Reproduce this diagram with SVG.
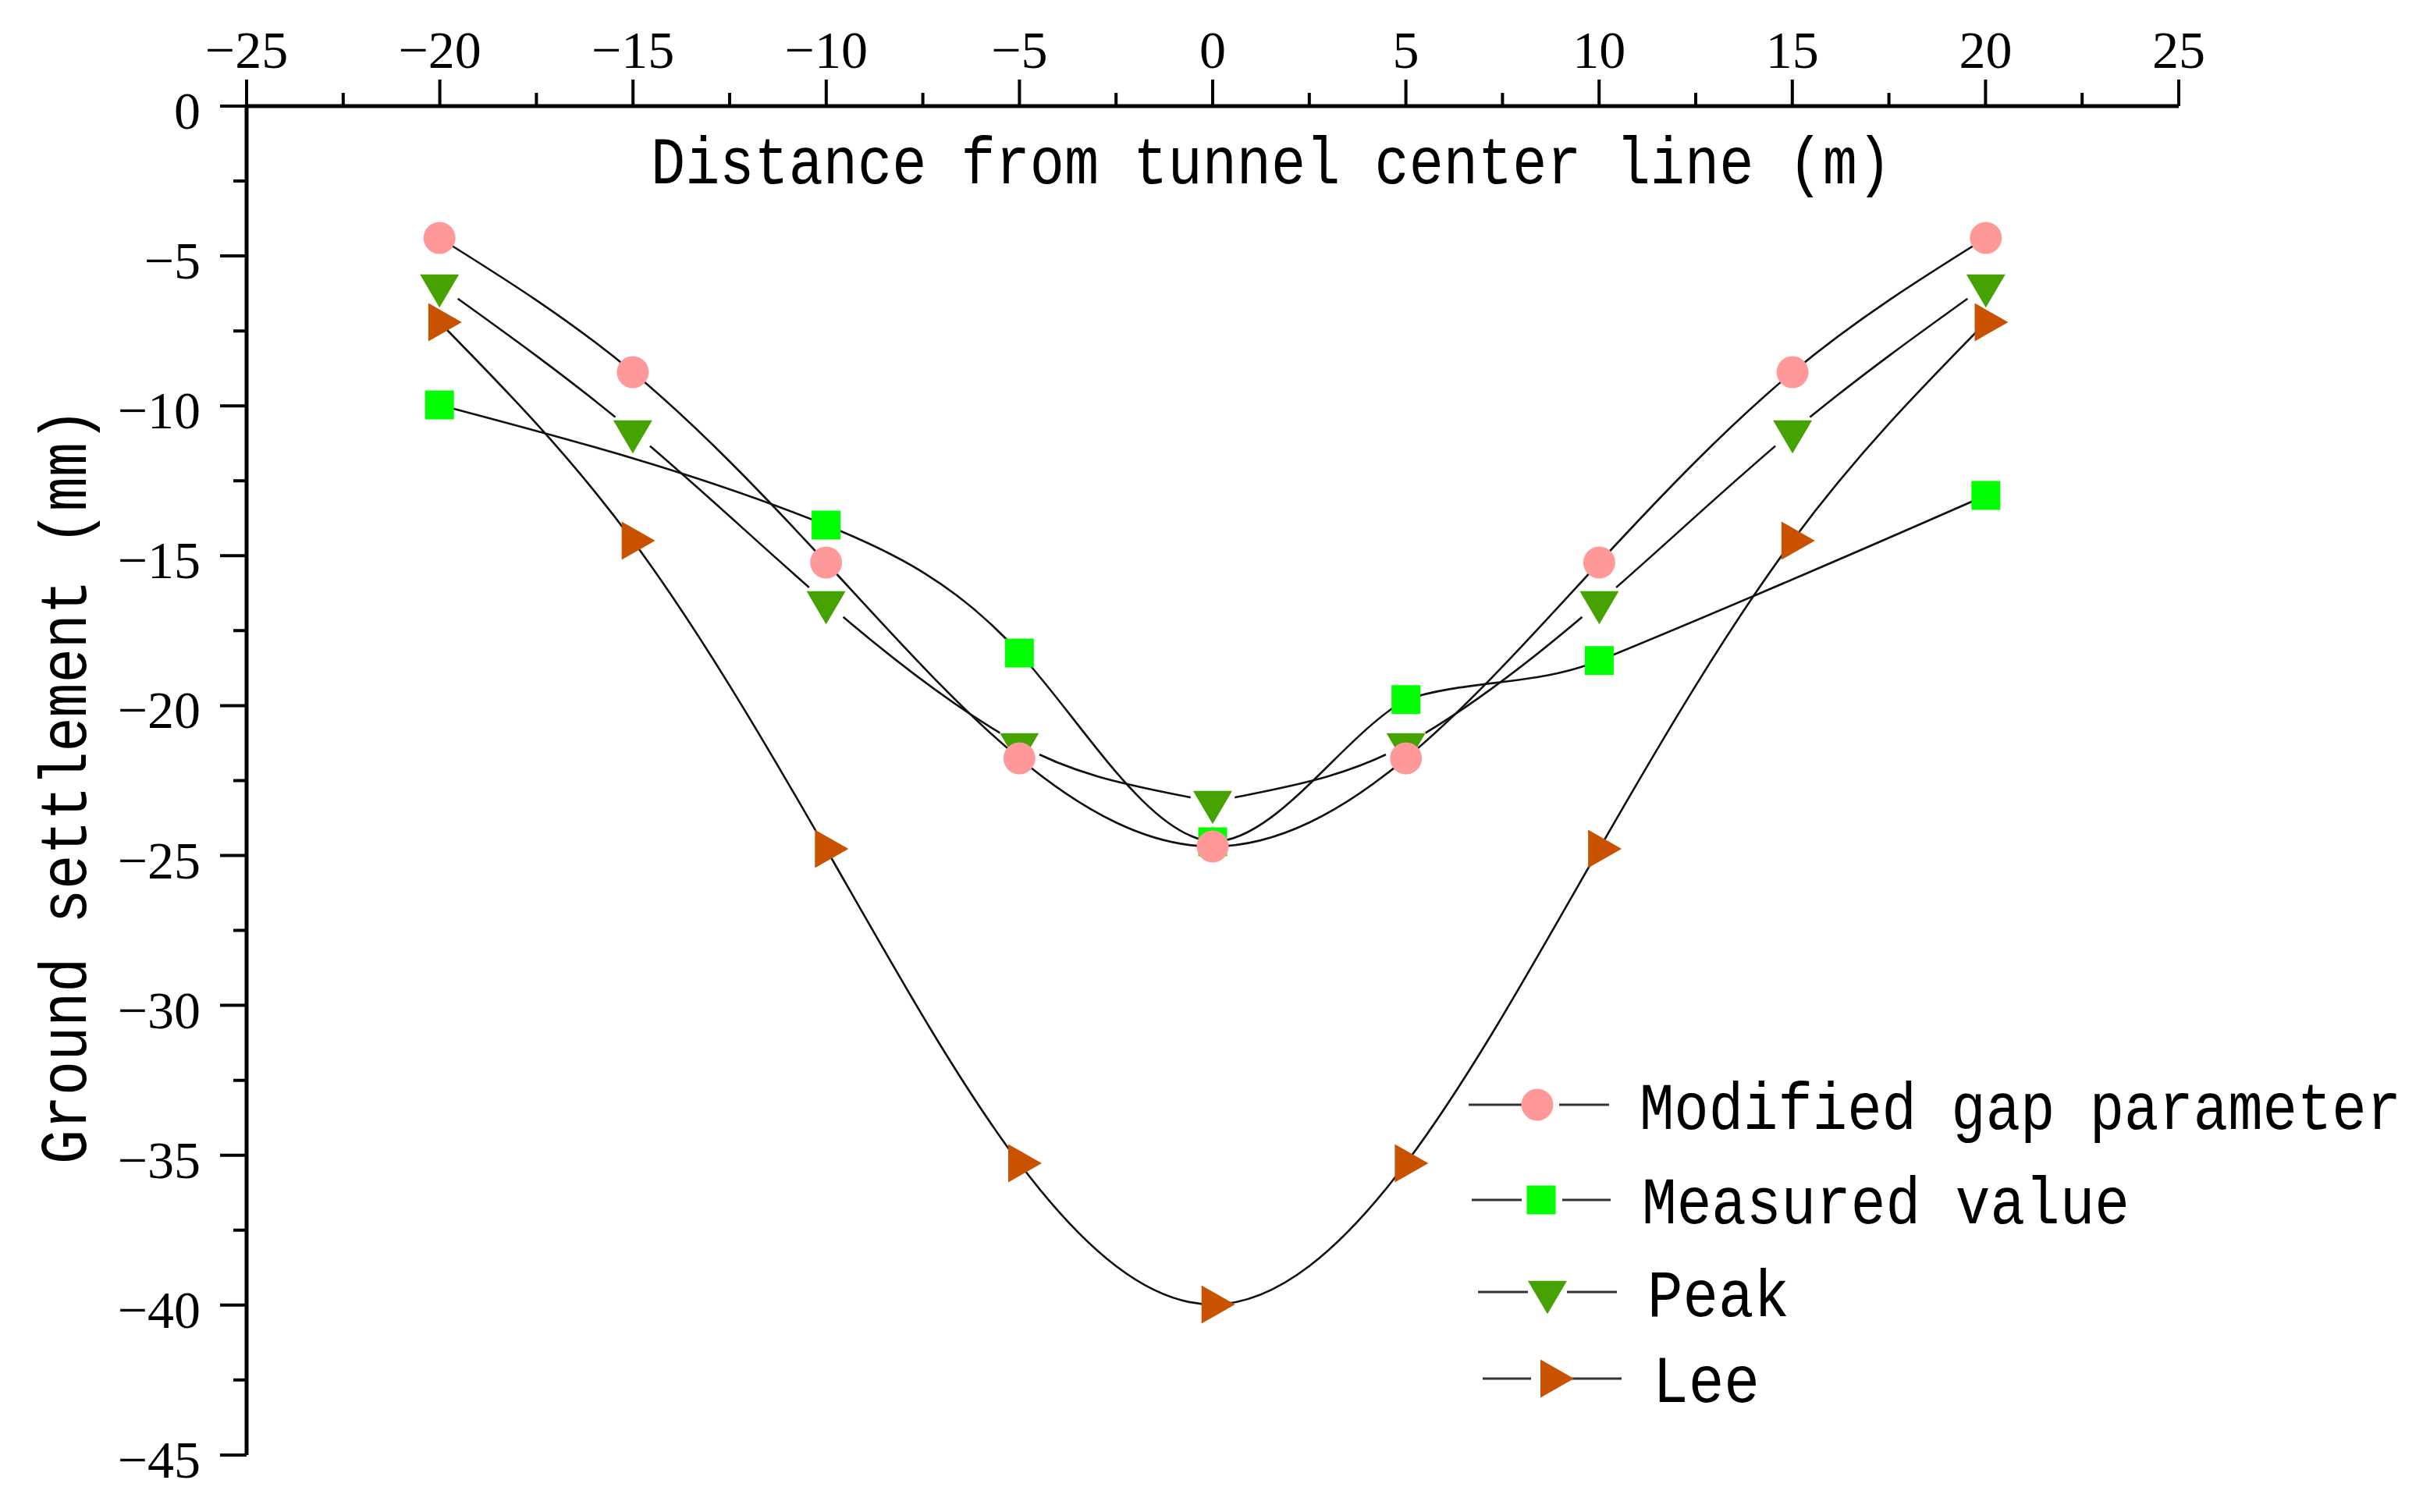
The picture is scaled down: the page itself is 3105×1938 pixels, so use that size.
<svg xmlns="http://www.w3.org/2000/svg" xmlns:xlink="http://www.w3.org/1999/xlink" width="3105" height="1938" viewBox="0 0 3105 1938">
<style>
.axis{stroke:#000;stroke-width:5;fill:none}
.tick{stroke:#000;stroke-width:4;fill:none}
.tl{font-family:"Liberation Serif","Times New Roman",serif;font-size:68px;fill:#000}
.tt{font-family:"Liberation Mono","Courier New",monospace;font-size:86px;fill:#000}
.curve{stroke:#111;stroke-width:2.6;fill:none;stroke-linejoin:round}
.leg{stroke:#333;stroke-width:3.2}
</style>
<defs>
<g id="mkCircle"><circle r="20.5" fill="#FF9999"/></g>
<g id="mkSquare"><rect x="-18.5" y="-18.5" width="37" height="37" fill="#00FF00"/></g>
<g id="mkPeak"><polygon points="-25,-14.2 25,-14.2 0,28.3" fill="#46A200"/></g>
<g id="mkLee"><polygon points="-14.3,-24.5 -14.3,24.5 28.7,0" fill="#C85200"/></g>
<mask id="gapPeak" maskUnits="userSpaceOnUse" x="0" y="0" width="3105" height="1938">
<rect x="0" y="0" width="3105" height="1938" fill="#fff"/>
<g fill="#000">
<circle cx="563.2" cy="366" r="29"/><circle cx="810.9" cy="553" r="29"/><circle cx="1058.6" cy="772" r="29"/>
<circle cx="1306.3" cy="954" r="29"/><circle cx="1554" cy="1028" r="29"/><circle cx="1801.7" cy="954" r="29"/>
<circle cx="2049.4" cy="772" r="29"/><circle cx="2297.1" cy="553" r="29"/><circle cx="2544.8" cy="366" r="29"/>
</g>
</mask>
</defs>
<rect width="3105" height="1938" fill="#fff"/>

<g id="axes">
<line class="axis" x1="316" y1="136" x2="2792" y2="136"/>
<line class="axis" x1="316" y1="133.5" x2="316" y2="1865"/>
<g class="tick">
<path d="M316,136V102M563.6,136V102M811.2,136V102M1058.8,136V102M1306.4,136V102M1554,136V102M1801.6,136V102M2049.2,136V102M2296.8,136V102M2544.4,136V102M2792,136V102"/>
<path d="M439.8,136V119M687.4,136V119M935,136V119M1182.6,136V119M1430.2,136V119M1677.8,136V119M1925.4,136V119M2173,136V119M2420.6,136V119M2668.2,136V119"/>
<path d="M316,136H282M316,328.1H282M316,520.2H282M316,712.3H282M316,904.4H282M316,1096.5H282M316,1288.6H282M316,1480.7H282M316,1672.8H282M316,1864.9H282"/>
<path d="M316,232.05H299M316,424.15H299M316,616.25H299M316,808.35H299M316,1000.45H299M316,1192.55H299M316,1384.65H299M316,1576.75H299M316,1768.85H299"/>
</g>
<g class="tl" text-anchor="middle">
<text x="316" y="87">−25</text>
<text x="563.6" y="87">−20</text>
<text x="811.2" y="87">−15</text>
<text x="1058.8" y="87">−10</text>
<text x="1306.4" y="87">−5</text>
<text x="1554" y="87">0</text>
<text x="1801.6" y="87">5</text>
<text x="2049.2" y="87">10</text>
<text x="2296.8" y="87">15</text>
<text x="2544.4" y="87">20</text>
<text x="2792" y="87">25</text>
</g>
<g class="tl" text-anchor="end">
<text x="257" y="165">0</text>
<text x="257" y="357.1">−5</text>
<text x="257" y="549.2">−10</text>
<text x="257" y="741.3">−15</text>
<text x="257" y="933.4">−20</text>
<text x="257" y="1125.5">−25</text>
<text x="257" y="1317.6">−30</text>
<text x="257" y="1509.7">−35</text>
<text x="257" y="1701.8">−40</text>
<text x="257" y="1893.9">−45</text>
</g>
<text id="x-title" class="tt" x="834" y="235" textLength="1590" lengthAdjust="spacingAndGlyphs">Distance from tunnel center line (m)</text>
<text id="y-title" class="tt" transform="translate(110,1492) rotate(-90)" x="0" y="0" textLength="969" lengthAdjust="spacingAndGlyphs">Ground settlement (mm)</text>
</g>

<g id="connectors">
<path id="curve-modified" class="curve" d="M563.2,305 C645.8,356.6 728.3,408.3 810.9,477 C893.5,545.7 976,631.6 1058.6,721 C1141.2,810.4 1223.7,903.4 1306.3,972 C1388.9,1040.7 1471.4,1085 1554,1085 C1636.6,1085 1719.1,1040.7 1801.7,972 C1884.3,903.4 1966.8,810.4 2049.4,721 C2132,631.6 2214.5,545.7 2297.1,477 C2379.7,408.3 2462.2,356.6 2544.8,305"/>
<path id="curve-measured" class="curve" d="M563.2,519 C728.3,562.6 893.5,606.2 1058.6,673 C1141.2,706.4 1223.7,745.7 1306.3,837 C1388.9,928.3 1471.4,1071.6 1554,1079 C1636.6,1078 1719.1,944 1801.7,896.7 C1884.3,870 1966.8,880 2049.4,846.7 C2214.5,779 2379.7,707.6 2544.8,635"/>
<path id="curve-peak" class="curve" mask="url(#gapPeak)" d="M563.2,366 C645.8,425.1 728.3,484.1 810.9,553 C893.5,621.9 976,700.5 1058.6,772 C1141.2,843.5 1223.7,907.9 1306.3,954 C1388.9,1000.1 1471.4,1010 1554,1028 C1636.6,1010 1719.1,1000.1 1801.7,954 C1884.3,907.9 1966.8,843.5 2049.4,772 C2132,700.5 2214.5,621.9 2297.1,553 C2379.7,484.1 2462.2,425.1 2544.8,366"/>
<path id="curve-lee" class="curve" d="M563.2,413 C645.8,497.2 728.3,581.3 810.9,693 C893.5,804.7 976,943.9 1058.6,1088 C1141.2,1232.1 1223.7,1381 1306.3,1491 C1388.9,1601 1471.4,1672 1554,1672 C1636.6,1672 1719.1,1601 1801.7,1491 C1884.3,1381 1966.8,1232.1 2049.4,1088 C2132,943.9 2214.5,804.7 2297.1,693 C2379.7,581.3 2462.2,497.2 2544.8,413"/>
</g>

<g id="series-lee">
<use xlink:href="#mkLee" href="#mkLee" x="563.2" y="413"/><use xlink:href="#mkLee" href="#mkLee" x="810.9" y="693"/><use xlink:href="#mkLee" href="#mkLee" x="1058.6" y="1088"/>
<use xlink:href="#mkLee" href="#mkLee" x="1306.3" y="1491"/><use xlink:href="#mkLee" href="#mkLee" x="1554" y="1672"/><use xlink:href="#mkLee" href="#mkLee" x="1801.7" y="1491"/>
<use xlink:href="#mkLee" href="#mkLee" x="2049.4" y="1088"/><use xlink:href="#mkLee" href="#mkLee" x="2297.1" y="693"/><use xlink:href="#mkLee" href="#mkLee" x="2544.8" y="413"/>
</g>
<g id="series-peak">
<use xlink:href="#mkPeak" href="#mkPeak" x="563.2" y="366"/><use xlink:href="#mkPeak" href="#mkPeak" x="810.9" y="553"/><use xlink:href="#mkPeak" href="#mkPeak" x="1058.6" y="772"/>
<use xlink:href="#mkPeak" href="#mkPeak" x="1306.3" y="954"/><use xlink:href="#mkPeak" href="#mkPeak" x="1554" y="1028"/><use xlink:href="#mkPeak" href="#mkPeak" x="1801.7" y="954"/>
<use xlink:href="#mkPeak" href="#mkPeak" x="2049.4" y="772"/><use xlink:href="#mkPeak" href="#mkPeak" x="2297.1" y="553"/><use xlink:href="#mkPeak" href="#mkPeak" x="2544.8" y="366"/>
</g>
<g id="series-measured">
<use xlink:href="#mkSquare" href="#mkSquare" x="563.2" y="519"/><use xlink:href="#mkSquare" href="#mkSquare" x="1058.6" y="673"/><use xlink:href="#mkSquare" href="#mkSquare" x="1306.3" y="837"/>
<use xlink:href="#mkSquare" href="#mkSquare" x="1554" y="1079"/><use xlink:href="#mkSquare" href="#mkSquare" x="1801.7" y="896.7"/><use xlink:href="#mkSquare" href="#mkSquare" x="2049.4" y="846.7"/>
<use xlink:href="#mkSquare" href="#mkSquare" x="2544.8" y="635"/>
</g>
<g id="series-modified">
<use xlink:href="#mkCircle" href="#mkCircle" x="563.2" y="305"/><use xlink:href="#mkCircle" href="#mkCircle" x="810.9" y="477"/><use xlink:href="#mkCircle" href="#mkCircle" x="1058.6" y="721"/>
<use xlink:href="#mkCircle" href="#mkCircle" x="1306.3" y="972"/><use xlink:href="#mkCircle" href="#mkCircle" x="1554" y="1085"/><use xlink:href="#mkCircle" href="#mkCircle" x="1801.7" y="972"/>
<use xlink:href="#mkCircle" href="#mkCircle" x="2049.4" y="721"/><use xlink:href="#mkCircle" href="#mkCircle" x="2297.1" y="477"/><use xlink:href="#mkCircle" href="#mkCircle" x="2544.8" y="305"/>
</g>

<g id="legend">
<g id="legend-modified">
<line class="leg" x1="1882" y1="1416" x2="1950" y2="1416"/><line class="leg" x1="1998" y1="1416" x2="2062" y2="1416"/>
<use xlink:href="#mkCircle" href="#mkCircle" x="1970" y="1416"/>
<text class="tt" x="2101" y="1447" textLength="976" lengthAdjust="spacingAndGlyphs">Modified gap parameter</text>
</g>
<g id="legend-measured">
<line class="leg" x1="1886" y1="1538" x2="1950" y2="1538"/><line class="leg" x1="2002" y1="1538" x2="2064" y2="1538"/>
<use xlink:href="#mkSquare" href="#mkSquare" x="1975" y="1538"/>
<text class="tt" x="2104" y="1568" textLength="625" lengthAdjust="spacingAndGlyphs">Measured value</text>
</g>
<g id="legend-peak">
<line class="leg" x1="1894" y1="1656" x2="1958" y2="1656"/><line class="leg" x1="2008" y1="1656" x2="2072" y2="1656"/>
<use xlink:href="#mkPeak" href="#mkPeak" x="1983" y="1656"/>
<text class="tt" x="2111" y="1687" textLength="182" lengthAdjust="spacingAndGlyphs">Peak</text>
</g>
<g id="legend-lee">
<line class="leg" x1="1900" y1="1767" x2="1962" y2="1767"/><line class="leg" x1="2014" y1="1767" x2="2078" y2="1767"/>
<use xlink:href="#mkLee" href="#mkLee" x="1988.3" y="1767"/>
<text class="tt" x="2118" y="1797" textLength="137" lengthAdjust="spacingAndGlyphs">Lee</text>
</g>
</g>
</svg>
